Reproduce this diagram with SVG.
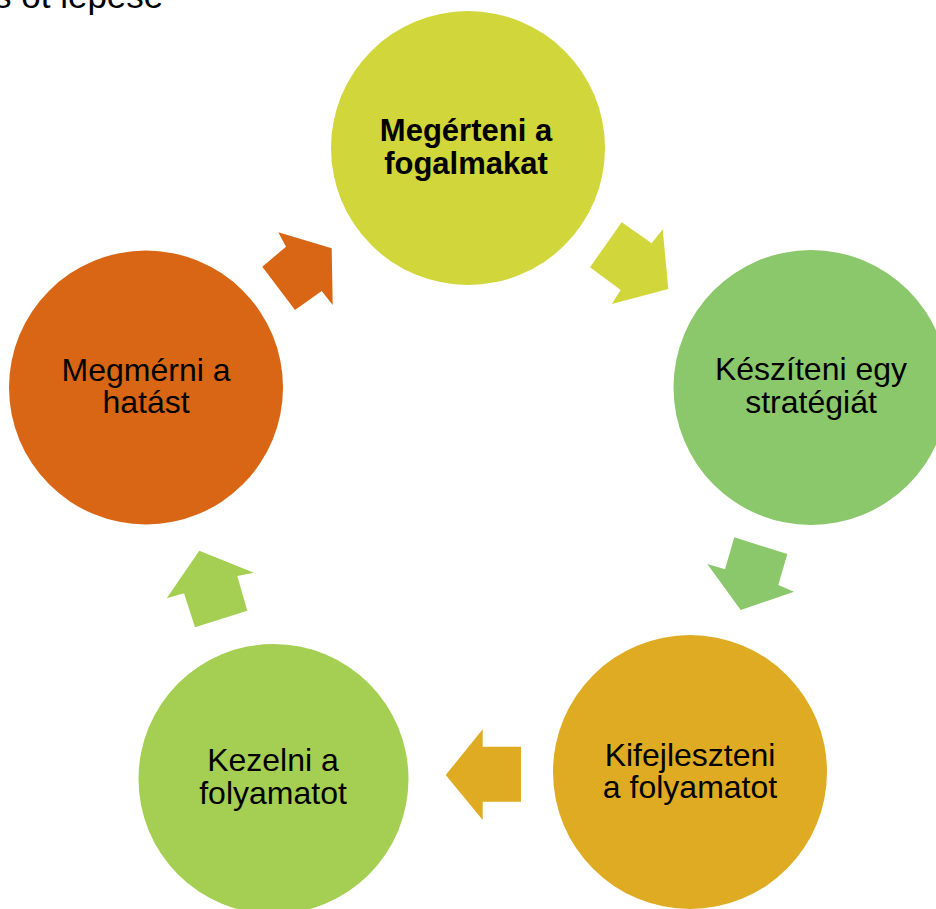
<svg xmlns="http://www.w3.org/2000/svg" width="936" height="909" viewBox="0 0 936 909">
<style>
.lbl{font-family:"Liberation Sans",Arial,sans-serif;font-size:32px;fill:#000;text-anchor:middle}
.b{font-weight:bold;font-size:31px}
.title{font-family:"Liberation Sans",Arial,sans-serif;font-size:35px;fill:#000}
</style>
<rect width="936" height="909" fill="#fff"/>
<text class="title" x="-6" y="8">s öt lépése</text>
<g id="connectors">
<polygon fill="#D96614" points="278.3,232.3 331.7,248.3 332.7,305 321.7,291 295,310 262.3,266.7 286,246.7"/>
<polygon fill="#D1D63A" points="621.7,222.3 651.7,243.3 662.7,229.3 668.3,289 611.7,304 620.7,290 590,267.3"/>
<polygon fill="#8BC76B" points="734.3,537.3 787.3,554 778.3,585 794,591.7 740.7,610 707.3,564 725,569.3"/>
<polygon fill="#DEAB22" points="482.7,729.3 482.7,746.7 521,746.7 521,801.7 482.7,801.7 482.7,820 445.7,775"/>
<polygon fill="#A5CF52" points="199.3,550.7 254,572.7 237.3,576 247.3,610.7 195,627.3 184,593.3 166.7,598.3"/>
</g>
<g id="node1">
<circle cx="468" cy="148" r="137" fill="#D1D63A"/>
<text class="lbl b" x="466" y="141">Megérteni a</text>
<text class="lbl b" x="466" y="174">fogalmakat</text>
</g>
<g id="node2">
<circle cx="811" cy="387.5" r="137.5" fill="#8BC76B"/>
<text class="lbl" x="811" y="380">Készíteni egy</text>
<text class="lbl" x="811" y="413">stratégiát</text>
</g>
<g id="node3">
<circle cx="690" cy="772" r="137" fill="#DEAB22"/>
<text class="lbl" x="690" y="766">Kifejleszteni</text>
<text class="lbl" x="690" y="798">a folyamatot</text>
</g>
<g id="node4">
<circle cx="273.5" cy="779" r="135" fill="#A5CF52"/>
<text class="lbl" x="273" y="771">Kezelni a</text>
<text class="lbl" x="273" y="804">folyamatot</text>
</g>
<g id="node5">
<circle cx="146" cy="387.5" r="137" fill="#D96614"/>
<text class="lbl" x="146" y="381">Megmérni a</text>
<text class="lbl" x="146" y="413">hatást</text>
</g>
</svg>
